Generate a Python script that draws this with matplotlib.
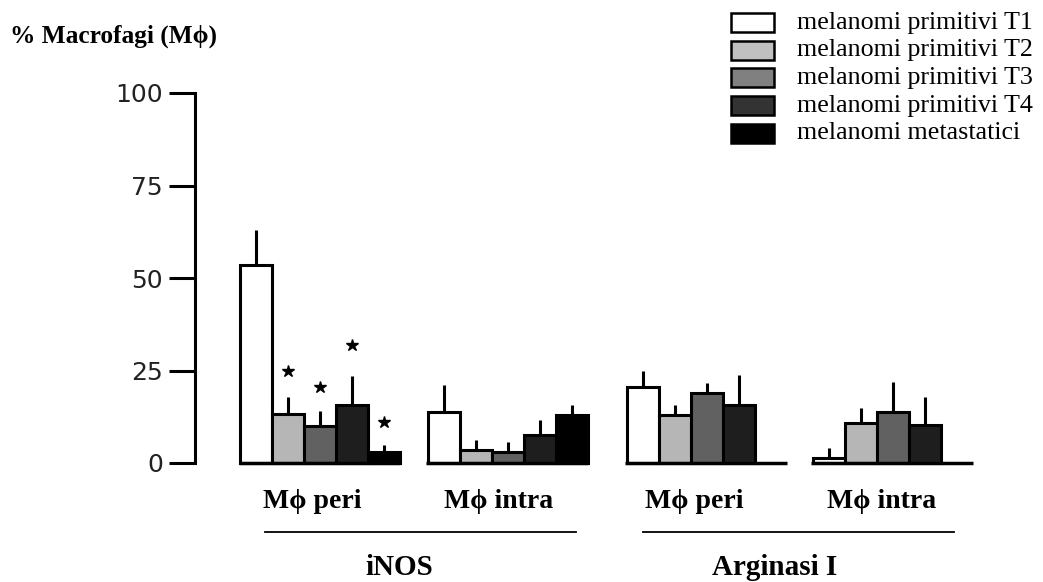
import numpy as np
import matplotlib.pyplot as plt
from matplotlib.patches import Rectangle
from matplotlib.lines import Line2D

# values (% macrophages), one list per group
series = ["melanomi primitivi T1", "melanomi primitivi T2", "melanomi primitivi T3",
          "melanomi primitivi T4", "melanomi metastatici"]
group_labels = ["M\u03d5 peri", "M\u03d5 intra", "M\u03d5 peri", "M\u03d5 intra"]
markers = ["iNOS", "Arginasi I"]

inos_peri = [53.5, 13.2, 10.0, 15.7, 3.0]
inos_peri_err = [9.5, 4.6, 4.0, 7.8, 1.9]
inos_intra = [13.8, 3.5, 3.0, 7.6, 13.0]
inos_intra_err = [7.2, 2.7, 2.7, 4.0, 2.7]
arg_peri = [20.5, 13.0, 19.0, 15.7]
arg_peri_err = [4.5, 2.7, 2.6, 8.1]
arg_intra = [1.4, 10.8, 13.8, 10.3]
arg_intra_err = [2.6, 4.1, 8.2, 7.5]

# significance stars above the iNOS peri bars (series index, height)
star_idx = [1, 2, 3, 4]
star_y = [25, 20.5, 32, 11]

groups = [(inos_peri, inos_peri_err), (inos_intra, inos_intra_err),
          (arg_peri, arg_peri_err), (arg_intra, arg_intra_err)]

bar_colors = ["white", "#b6b6b6", "#616161", "#1e1e1e", "black"]
legend_colors = ["white", "#c0c0c0", "#808080", "#333333", "black"]

W, H = 1043, 582
fig = plt.figure(figsize=(W / 100, H / 100), dpi=100)


def fx(px):
    return px / W


def fy(py):
    return 1 - py / H


serif = ["Liberation Serif", "DejaVu Serif"]

ax = fig.add_axes([fx(195), fy(463), fx(800), 370 / H])
ax.set_xlim(0, 25)
ax.set_ylim(0, 100)

group_start = [1.41, 7.28, 13.5, 19.31]
lw = 2.2
for g, (vals, errs) in enumerate(groups):
    x = group_start[g] + np.arange(len(vals)) + 0.5
    ax.bar(x, vals, width=1.0, color=bar_colors[:len(vals)], edgecolor="black",
           linewidth=lw, clip_on=False, zorder=2)
    tops = np.array(vals)
    ax.vlines(x, tops, tops + np.array(errs), color="black", linewidth=lw, zorder=1)
    ax.hlines(0, group_start[g] - 0.05, group_start[g] + 5.0, color="black",
              linewidth=2.5, clip_on=False, zorder=3)

sx = [group_start[0] + i + 0.5 for i in star_idx]
ax.plot(sx, star_y, linestyle="none", marker="*", markersize=9, color="black")

ax.spines[["top", "right", "bottom"]].set_visible(False)
ax.spines["left"].set_linewidth(2.2)
ax.spines["left"].set_bounds(0, 100)
ax.set_yticks([0, 25, 50, 75, 100])
ax.set_xticks([])
ax.tick_params(axis="y", length=19, width=2.2, pad=4, labelsize=18, labelcolor="#222222")

# title
fig.text(fx(10), fy(43), "% Macrofagi (M\u03d5)", family=serif, fontweight="bold",
         fontsize=18.3, va="baseline", ha="left")

# group labels and marker headings
label_x = [312, 499, 694, 882]
for lx, lab in zip(label_x, group_labels):
    fig.text(fx(lx), fy(508), lab, family=serif, fontweight="bold", fontsize=20,
             ha="center", va="baseline")

line_spans = [(265, 576), (643, 954)]
marker_x = [399, 775]
for (a, b), mx, m in zip(line_spans, marker_x, markers):
    fig.add_artist(Line2D([fx(a), fx(b)], [fy(532), fy(532)], color="black",
                          linewidth=1.3, transform=fig.transFigure))
    fig.text(fx(mx), fy(575), m, family=serif, fontweight="bold", fontsize=21,
             ha="center", va="baseline")

# legend drawn by hand
row_y = [22.7, 50, 77.7, 105.7, 133.3]
for ry, name, c in zip(row_y, series, legend_colors):
    fig.add_artist(Rectangle((fx(731), fy(ry + 9.5)), fx(43), 19 / H, facecolor=c,
                             edgecolor="black", linewidth=1.8,
                             transform=fig.transFigure))
    fig.text(fx(797), fy(ry), name, family=serif, fontsize=18.7, ha="left",
             va="center")

fig.savefig("out.png", dpi=100)
